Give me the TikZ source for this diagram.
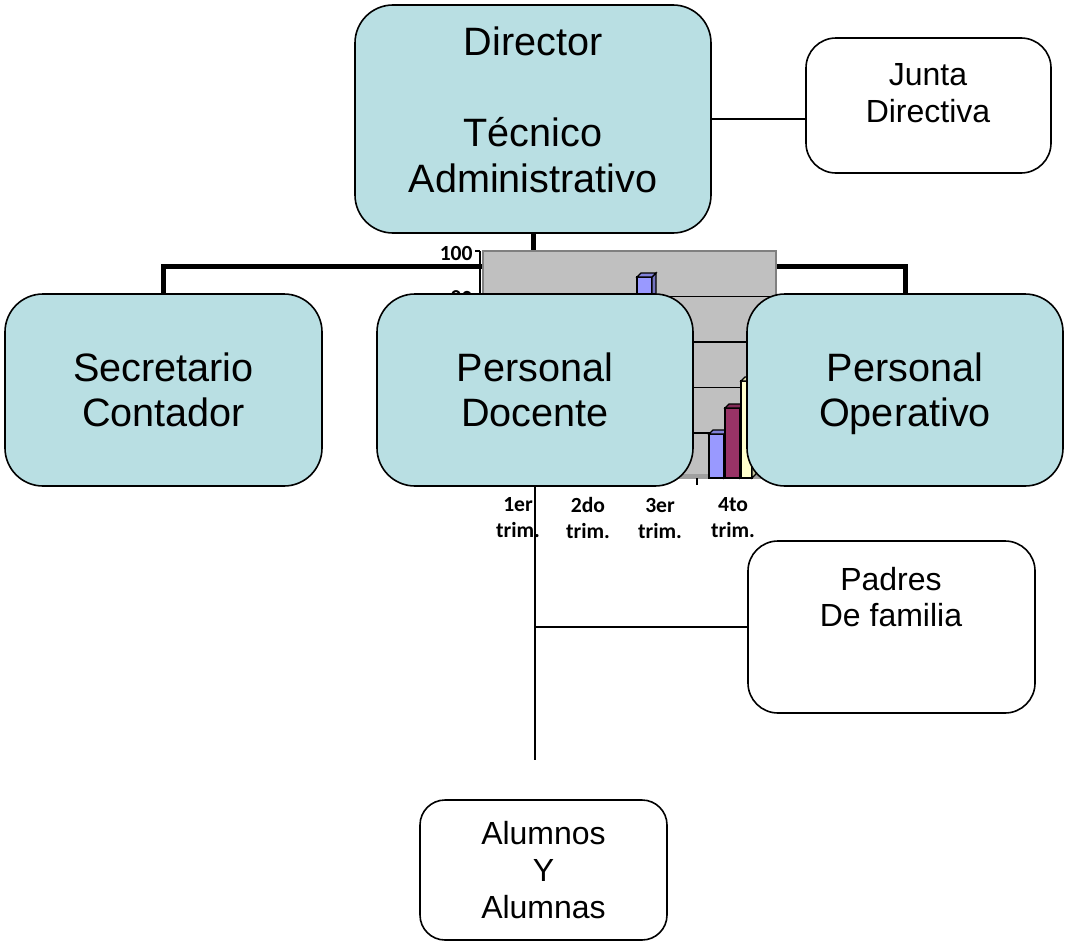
\documentclass[tikz,border=0pt]{standalone}
\usepackage{fontspec}
\setmainfont{Liberation Sans}
\newfontfamily\chartfont{Carlito}
\pgfdeclarelayer{background}
\pgfsetlayers{background,main}
\definecolor{boxblue}{HTML}{B9DFE3}
\definecolor{wallgray}{HTML}{C0C0C0}
\definecolor{barblue}{HTML}{9999FF}
\definecolor{barplum}{HTML}{993366}
\definecolor{barcream}{HTML}{FFFFCC}
\newcommand{\bigtext}{\fontsize{19.8}{22.8}\selectfont}
\newcommand{\smalltext}{\fontsize{16}{18.4}\selectfont}
\newcommand{\charttext}{\chartfont\bfseries\fontsize{10.8}{13}\selectfont}
\newcommand{\topstrut}{\rule{0pt}{21pt}}
\newcommand{\chartbar}[4]{%
  \filldraw[fill=#4, line width=0.6pt] (#1,478) rectangle (#1+#2,#3);
  \filldraw[fill=#4!75!black, line width=0.6pt] (#1+#2,478) -- (#1+#2,#3) --%
  (#1+#2+4,#3-4) -- (#1+#2+4,474) -- cycle;
  \filldraw[fill=#4!85!black, line width=0.6pt] (#1,#3) -- (#1+4,#3-4) --%
  (#1+#2+4,#3-4) -- (#1+#2,#3) -- cycle;}
\tikzset{
  bigbox/.style={draw, fill=boxblue, line width=0.8pt, rounded corners=19pt,
    align=center, font=\bigtext, minimum width=158pt, minimum height=96pt,
    inner sep=0pt},
  smallbox/.style={draw, fill=white, line width=0.8pt, rounded corners=15pt,
    align=center, font=\smalltext, inner sep=0pt},
  txt/.style={align=center, inner sep=0pt},
  busline/.style={line width=2.5pt},
  link/.style={line width=0.8pt},
  ticklabel/.style={font=\charttext, align=center, inner sep=0pt}
}
\begin{document}
\begin{tikzpicture}[x=0.5pt, y=-0.5pt]
    \useasboundingbox (0,0) rectangle (1065,942);
    \node[bigbox, minimum width=178pt, minimum height=114pt] (dir) at (533,119) {};
    \node[txt, font=\bigtext] (dirtext) at (533,110)%
         {Director\\[22.8pt]Técnico\\Administrativo};
    \node[smallbox, minimum width=122.5pt, minimum height=67.5pt] (junta)%
         at (928.5,105.5) {};
    \node[txt, font=\smalltext] (juntatext) at (928,93) {Junta\\Directiva};

    \node[bigbox, minimum width=158.5pt] (sec) at (163.5,390)%
         {\topstrut Secretario\\Contador\strut};
    \node[bigbox] (doc) at (535,390) {\topstrut Personal\\Docente\strut};
    \node[bigbox] (ope) at (905,390) {\topstrut Personal\\Operativo\strut};

    \node[smallbox, minimum width=143.5pt, minimum height=86pt] (pad)%
         at (891.5,627) {};
    \node[txt, font=\smalltext] (padtext) at (891,597) {Padres\\De familia};
    \node[smallbox, rounded corners=12.5pt, minimum width=123.5pt,%
          minimum height=70pt] (alu) at (543.5,870) {Alumnos\\Y\\Alumnas};

    \coordinate (bus) at (533,266);
    \coordinate (docend) at (535,760);

    \begin{pgfonlayer}{background}
      \draw[busline] (dir.south) -- (dir.south |- doc.north);
      \draw[busline] (sec.north) -- (sec.north |- bus) -- (ope.north |- bus)%
           -- (ope.north);
      \filldraw[fill=wallgray, draw=gray, line width=0.6pt] (483,251) rectangle (776,478);
      \fill[gray!75] (483,474) rectangle (776,479);
      \foreach \y in {296.5,342,387.5,433}
        \draw[line width=0.7pt] (483,\y) -- (776,\y);
      \draw[line width=0.7pt] (480,251) -- (480,478);
      \foreach \y in {251,296.5,342,387.5,433,478.5}
        \draw[line width=0.7pt] (475,\y) -- (480,\y);
      \node[anchor=east, font=\charttext, inner sep=1pt] (lab100) at (475,253) {100};
      \node[anchor=east, font=\charttext, inner sep=1pt] (lab80) at (475,298) {80};
      \foreach \x in {553,624,697}
        \draw[line width=0.7pt] (\x,478) -- (\x,485);
      \chartbar{637}{15}{277}{barblue}
      \chartbar{709}{15}{434}{barblue}
      \chartbar{725}{15}{408}{barplum}
      \chartbar{741}{11}{381}{barcream}
      \foreach \x/\n/\k in {518/1er/a,588/2do/b,660/3er/c,733/4to/d}
        \node[ticklabel] (cat\k) at (\x,518) {\n\\trim.};
    \end{pgfonlayer}

    \draw[link] (dir.east) -- (dir.east -| junta.west);
    \draw[link] (doc.south) -- (docend);
    \draw[link] (doc.south |- pad.west) -- (pad.west);
\end{tikzpicture}
\end{document}
